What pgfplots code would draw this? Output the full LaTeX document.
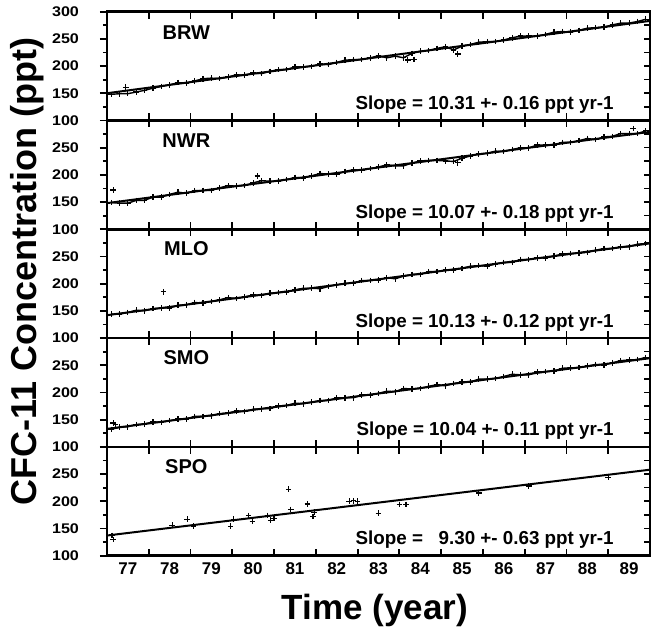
\documentclass[border=0pt]{standalone}
\usepackage{pgfplots}
\pgfplotsset{compat=1.18}
\usepackage{fontspec}
\setmainfont{Liberation Sans}
\newfontfamily\widefont{Liberation Sans}[FakeStretch=1.15]

\pgfplotsset{
  panel/.style={
    width=271.5pt, height=54.4pt, scale only axis, anchor=north west,
    xmin=77, xmax=90, ymin=100, ymax=300,
    xtick={77,...,89}, xticklabels={},
    ytick={100,150,200,250}, minor ytick={125,175,225,275},
    ytick pos=left, ytick align=outside, xtick align=inside,
    major tick length=3.5pt, minor tick length=2pt,
    axis line style={line width=1.3pt},
    tick style={line width=0.9pt, black},
    /pgf/number format/assume math mode=true,
    yticklabel style={font=\widefont\bfseries\fontsize{7}{8}\selectfont, xshift=-7pt},
    xticklabel style={font=\bfseries\fontsize{8.5}{9}\selectfont, xshift=10.44pt},
    clip=false,
  },
  pts/.style={only marks, mark=+, mark size=1.4pt, mark options={line width=0.6pt, black}},
  band/.style={black, line width=0.7pt, mark=+, mark size=1.4pt, mark options={line width=0.6pt}},
  fit/.style={black, line width=1pt, no marks},
}
\tikzset{
  stn/.style={font=\bfseries\fontsize{10}{12}\selectfont},
  slopetxt/.style={anchor=base east, font=\bfseries\fontsize{9.4}{11}\selectfont},
}
\newcommand\righticks{\pgfplotsinvokeforeach{125,150,175,200,225,250,275}{\draw[line width=0.8pt] (axis cs:90,##1) -- (axis cs:89.86,##1);}}

\begin{document}
\begin{tikzpicture}
\path (-53.5pt,5pt) rectangle (273pt,-309.5pt);

% BRW
\begin{axis}[panel, at={(0,0)}, ytick={100,150,200,250,300}]
\righticks
\addplot[band] coordinates {(77.1,148.0) (77.3,149.1) (77.5,149.2) (77.7,152.2) (77.9,155.3) (78.1,159.3) (78.3,162.4) (78.5,165.5) (78.7,169.5) (78.9,168.6) (79.1,172.6) (79.3,176.7) (79.5,177.8) (79.7,176.8) (79.9,179.9) (80.1,184.0) (80.3,183.0) (80.5,187.1) (80.7,186.1) (80.9,190.2) (81.1,193.3) (81.3,193.3) (81.5,198.4) (81.7,198.5) (81.9,199.5) (82.1,203.6) (82.3,202.6) (82.5,206.7) (82.7,210.8) (82.9,211.8) (83.1,211.9) (83.3,214.9) (83.5,219.0) (83.7,215.1) (83.9,218.1) (84.1,215.2) (84.3,223.3) (84.5,227.3) (84.7,228.4) (84.9,232.4) (85.1,235.5) (85.3,229.6) (85.5,236.6) (85.7,239.7) (85.9,243.8) (86.1,244.8) (86.3,244.9) (86.5,247.9) (86.7,252.0) (86.9,255.1) (87.1,255.1) (87.3,255.2) (87.5,258.2) (87.7,262.3) (87.9,263.4) (88.1,262.4) (88.3,265.5) (88.5,269.6) (88.7,270.6) (88.9,271.7) (89.1,275.7) (89.3,278.8) (89.5,278.9) (89.7,281.9) (89.9,286.0)};
\addplot[pts] coordinates {(77.45,161) (84.2,211) (84.35,212) (85.4,222)};
\addplot[fit] coordinates {(77,150) (90,283)};
\node[stn] at (axis cs:78.9,262) {BRW};
\node[slopetxt] at (axis cs:89.3,120) {Slope = 10.31 +- 0.16 ppt yr-1};
\end{axis}

% NWR
\begin{axis}[panel, at={(0,-54.4pt)}]
\righticks
\addplot[band] coordinates {(77.1,149.0) (77.3,148.0) (77.5,148.0) (77.7,153.0) (77.9,153.1) (78.1,159.1) (78.3,159.1) (78.5,164.1) (78.7,168.1) (78.9,166.1) (79.1,171.1) (79.3,171.2) (79.5,171.2) (79.7,176.2) (79.9,180.2) (80.1,179.2) (80.3,180.2) (80.5,185.2) (80.7,189.3) (80.9,188.3) (81.1,188.3) (81.3,191.3) (81.5,195.3) (81.7,194.3) (81.9,198.3) (82.1,202.4) (82.3,201.4) (82.5,201.4) (82.7,206.4) (82.9,209.4) (83.1,208.4) (83.3,211.4) (83.5,214.4) (83.7,218.5) (83.9,216.5) (84.1,216.5) (84.3,221.5) (84.5,225.5) (84.7,226.5) (84.9,226.5) (85.1,225.6) (85.3,224.6) (85.5,230.6) (85.7,234.6) (85.9,238.6) (86.1,239.6) (86.3,243.6) (86.5,242.7) (86.7,246.7) (86.9,249.7) (87.1,249.7) (87.3,254.7) (87.5,254.7) (87.7,254.7) (87.9,259.8) (88.1,259.8) (88.3,262.8) (88.5,266.8) (88.7,264.8) (88.9,269.8) (89.1,270.8) (89.3,275.9) (89.5,275.9) (89.7,275.9) (89.9,280.9)};
\addplot[pts] coordinates {(77.15,172) (80.6,198) (89.6,285) (85.4,222)};
\addplot[fit] coordinates {(77,148) (90,279)};
\node[stn] at (axis cs:78.9,262) {NWR};
\node[slopetxt] at (axis cs:89.3,120) {Slope = 10.07 +- 0.18 ppt yr-1};
\end{axis}

% MLO
\begin{axis}[panel, at={(0,-108.8pt)}]
\righticks
\addplot[band] coordinates {(77.1,144.0) (77.3,144.0) (77.5,147.1) (77.7,151.1) (77.9,150.1) (78.1,154.1) (78.3,155.2) (78.5,155.2) (78.7,160.2) (78.9,161.2) (79.1,165.3) (79.3,164.3) (79.5,167.3) (79.7,170.3) (79.9,174.4) (80.1,172.4) (80.3,175.4) (80.5,179.4) (80.7,178.5) (80.9,182.5) (81.1,183.5) (81.3,184.5) (81.5,188.6) (81.7,191.6) (81.9,191.6) (82.1,190.7) (82.3,194.7) (82.5,197.7) (82.7,200.7) (82.9,200.8) (83.1,205.8) (83.3,205.8) (83.5,206.8) (83.7,210.9) (83.9,208.9) (84.1,213.9) (84.3,216.9) (84.5,217.0) (84.7,222.0) (84.9,222.0) (85.1,225.0) (85.3,225.1) (85.5,228.1) (85.7,232.1) (85.9,233.1) (86.1,232.2) (86.3,236.2) (86.5,239.2) (86.7,239.2) (86.9,244.3) (87.1,244.3) (87.3,247.3) (87.5,247.3) (87.7,250.4) (87.9,254.4) (88.1,255.4) (88.3,256.4) (88.5,257.5) (88.7,261.5) (88.9,264.5) (89.1,264.5) (89.3,267.6) (89.5,267.6) (89.7,272.6) (89.9,273.6)};
\addplot[pts] coordinates {(78.35,185)};
\addplot[fit] coordinates {(77,142) (90,274)};
\node[stn] at (axis cs:78.9,264) {MLO};
\node[slopetxt] at (axis cs:89.3,120) {Slope = 10.13 +- 0.12 ppt yr-1};
\node[rotate=90, font=\bfseries\fontsize{18}{20}\selectfont] at (axis cs:75.1,222) {CFC-11 Concentration (ppt)};
\end{axis}

% SMO
\begin{axis}[panel, at={(0,-163.2pt)}]
\righticks
\addplot[band] coordinates {(77.1,132.0) (77.3,136.0) (77.5,137.0) (77.7,141.0) (77.9,142.0) (78.1,146.0) (78.3,145.1) (78.5,148.1) (78.7,151.1) (78.9,151.1) (79.1,156.1) (79.3,156.1) (79.5,157.1) (79.7,161.1) (79.9,162.1) (80.1,166.1) (80.3,165.1) (80.5,169.1) (80.7,170.1) (80.9,170.2) (81.1,175.2) (81.3,176.2) (81.5,180.2) (81.7,179.2) (81.9,182.2) (82.1,185.2) (82.3,185.2) (82.5,190.2) (82.7,190.2) (82.9,190.2) (83.1,195.2) (83.3,195.3) (83.5,198.3) (83.7,202.3) (83.9,201.3) (84.1,207.3) (84.3,206.3) (84.5,207.3) (84.7,211.3) (84.9,214.3) (85.1,212.3) (85.3,216.3) (85.5,219.3) (85.7,219.3) (85.9,224.4) (86.1,224.4) (86.3,225.4) (86.5,229.4) (86.7,233.4) (86.9,232.4) (87.1,232.4) (87.3,237.4) (87.5,238.4) (87.7,239.4) (87.9,244.4) (88.1,245.4) (88.3,245.5) (88.5,248.5) (88.7,251.5) (88.9,250.5) (89.1,254.5) (89.3,258.5) (89.5,259.5) (89.7,260.5) (89.9,264.5)};
\addplot[pts] coordinates {(77.15,144) (77.2,141)};
\addplot[fit] coordinates {(77,133) (90,263)};
\node[stn] at (axis cs:78.9,264) {SMO};
\node[slopetxt] at (axis cs:89.3,120) {Slope = 10.04 +- 0.11 ppt yr-1};
\end{axis}

% SPO
\begin{axis}[panel, at={(0,-217.6pt)}, xticklabels={77,78,79,80,81,82,83,84,85,86,87,88,89}]
\righticks
\addplot[pts] coordinates {(77.12,137) (77.15,130) (78.56,156) (78.92,167) (79.07,154) (79.96,154) (80.03,167) (80.39,174) (80.48,163) (80.85,174) (80.92,165) (81.0,168) (81.35,222) (81.4,185) (81.8,195) (81.93,172) (81.96,180) (82.8,200) (82.9,201) (83.0,200) (83.5,178) (84.0,194) (84.16,194) (85.9,215) (87.1,228) (89.0,244)};
\addplot[fit] coordinates {(77,137) (90,258)};
\node[stn] at (axis cs:78.9,264) {SPO};
\node[slopetxt] at (axis cs:89.3,120) {Slope = \phantom{1}9.30 +- 0.63 ppt yr-1};
\end{axis}

\node[anchor=base, font=\bfseries\fontsize{17.5}{20}\selectfont] at (134pt,-304pt) {Time (year)};
\end{tikzpicture}
\end{document}
